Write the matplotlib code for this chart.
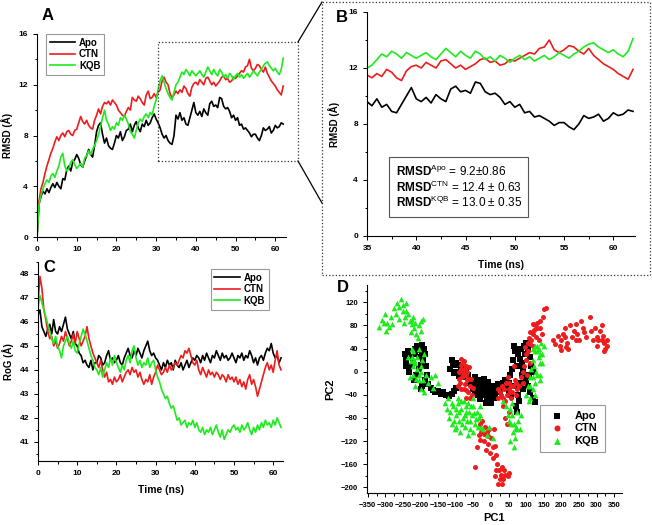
import numpy as np
import matplotlib
matplotlib.use('Agg')
from matplotlib import pyplot as plt
from matplotlib.lines import Line2D
from matplotlib.patches import Rectangle
from matplotlib.ticker import MultipleLocator

plt.rcParams['font.family'] = ['Liberation Sans', 'DejaVu Sans']
plt.rcParams['mathtext.fontset'] = 'custom'
plt.rcParams['mathtext.rm'] = 'Liberation Sans'
plt.rcParams['mathtext.bf'] = 'Liberation Sans:bold'

# time axis, 0.5 ns steps
time_ns = np.arange(0, 62.01, 0.5)

# RMSD (A) - panel A and B
rmsd_apo = [0.0, 2.6, 3.2, 3.6, 3.4, 3.8, 3.5, 3.9, 4.2, 3.9,
            4.3, 4.0, 3.8, 4.6, 4.5, 5.3, 5.6, 5.2, 5.9, 6.1,
            6.5, 6.2, 5.7, 5.5, 6.0, 6.4, 6.9, 6.5, 6.3, 7.2,
            8.3, 8.8, 9.0, 8.1, 7.4, 7.8, 7.2, 7.0, 6.9, 7.4,
            8.0, 7.8, 8.3, 7.6, 7.9, 8.4, 8.5, 8.9, 8.3, 8.8,
            9.1, 8.6, 8.3, 8.9, 8.7, 9.2, 8.8, 9.0, 9.4, 9.7,
            9.3, 9.0, 8.6, 8.1, 7.8, 8.0, 7.6, 7.4, 7.3, 8.0,
            9.6, 9.3, 9.8, 9.2, 9.4, 8.9, 8.8, 9.4, 10.0, 10.6,
            9.8, 9.6, 9.9, 9.5, 10.1, 9.8, 9.6, 10.5, 10.7, 10.3,
            10.4, 10.2, 11.0, 10.9, 10.3, 10.1, 10.2, 9.9, 9.4, 9.6,
            9.2, 9.4, 8.8, 8.9, 8.5, 8.6, 8.4, 8.2, 7.9, 8.1,
            8.1, 7.8, 7.6, 8.0, 8.6, 8.4, 8.5, 8.7, 8.2, 8.4,
            8.8, 8.6, 8.7, 9.0, 8.9]
rmsd_ctn = [0.0, 2.8, 3.8, 4.3, 5.0, 5.6, 6.1, 6.6, 7.0, 7.5,
            7.9, 7.6, 8.0, 8.2, 7.9, 8.3, 8.4, 8.1, 8.0, 8.4,
            8.5, 9.0, 9.5, 9.1, 8.9, 9.2, 8.8, 8.6, 8.5, 9.2,
            9.6, 10.1, 9.7, 10.3, 10.6, 10.5, 10.7, 10.4, 10.8, 10.6,
            10.4, 10.0, 9.8, 9.6, 9.5, 9.9, 10.2, 10.0, 11.0, 10.8,
            10.7, 11.1, 10.9, 10.6, 10.4, 11.2, 11.5, 10.9, 11.0, 11.3,
            11.0, 11.4, 11.6, 12.3, 12.6, 12.2, 12.0, 11.3, 11.0, 11.2,
            11.5, 11.3, 11.6, 11.4, 11.9, 11.7, 11.3, 11.1, 11.8, 12.1,
            12.2, 12.0, 12.4, 12.2, 12.0, 12.5, 12.6, 12.3, 12.0, 12.2,
            11.9, 12.1, 12.3, 12.6, 12.7, 12.4, 12.5, 12.2, 12.3, 12.6,
            12.5, 12.7, 12.9, 13.1, 13.0, 13.4, 13.5, 14.0, 13.3, 13.1,
            13.3, 13.6, 13.5, 13.2, 13.0, 13.4, 12.9, 12.6, 12.3, 12.1,
            11.9, 11.6, 11.4, 11.2, 11.9]
rmsd_kqb = [0.0, 2.5, 3.3, 3.8, 4.2, 4.5, 4.3, 4.8, 5.0, 4.7,
            5.2, 5.6, 6.3, 6.6, 5.6, 5.2, 5.4, 5.9, 6.1, 5.7,
            5.4, 5.6, 5.8, 5.5, 6.2, 6.4, 6.8, 6.5, 6.9, 7.2,
            7.6, 8.1, 8.7, 9.4, 10.0, 9.2, 8.9, 8.4, 8.7, 8.5,
            9.0, 8.8, 9.4, 9.2, 9.6, 9.3, 8.9, 8.3, 8.1, 7.8,
            8.4, 9.0, 9.3, 9.1, 9.5, 9.7, 9.4, 9.8, 9.6, 10.3,
            10.8, 11.6, 12.3, 12.7, 12.2, 11.7, 11.3, 11.0, 10.8, 11.4,
            12.0, 12.2, 12.6, 13.0, 12.8, 13.2, 13.0, 12.7, 13.1, 12.9,
            12.7, 12.9, 13.1, 12.8, 12.6, 13.0, 13.4, 13.1, 12.8, 13.2,
            12.9, 12.7, 13.2, 13.0, 12.6, 12.8, 12.5, 12.9, 12.7, 12.4,
            12.7, 12.9, 12.6, 12.8, 12.5, 12.7, 12.9, 12.6, 12.8, 13.1,
            12.9, 12.7, 13.0, 13.2, 13.5, 13.7, 13.8, 13.5, 13.3, 13.1,
            13.3, 13.0, 12.8, 13.2, 14.1]

# radius of gyration (A) - panel C
rog_apo = [46.3, 46.5, 45.8, 45.6, 45.4, 45.7, 45.9, 45.5, 46.1, 45.6,
           45.5, 45.8, 45.6, 45.9, 46.2, 45.7, 45.5, 45.3, 45.6, 45.1,
           45.0, 44.7, 44.6, 44.3, 44.4, 44.2, 44.1, 44.4, 44.0, 44.3,
           44.3, 44.6, 44.5, 44.2, 44.3, 44.6, 44.8, 44.4, 44.5, 44.3,
           44.4, 44.6, 44.3, 44.2, 44.5, 44.7, 44.9, 44.6, 44.5, 44.8,
           44.6, 44.9, 44.7, 44.5, 44.8, 45.0, 45.2, 44.8, 44.6, 44.7,
           44.5, 44.4, 44.2, 44.0, 44.3, 44.1, 44.4, 44.2, 44.3, 44.0,
           44.4, 44.2, 44.1, 44.3, 44.0, 44.2, 44.4, 44.1, 44.3, 44.5,
           44.4, 44.6, 44.5, 44.3, 44.6, 44.4, 44.7, 44.5, 44.3, 44.6,
           44.5, 44.8, 44.6, 44.4, 44.7, 44.5, 44.6, 44.4, 44.5, 44.7,
           44.5, 44.3, 44.6, 44.5, 44.7, 44.4, 44.6, 44.5, 44.8, 44.6,
           44.3, 44.5, 44.2, 44.5, 44.6, 44.4, 44.7, 44.9, 44.8, 45.1,
           44.7, 44.5, 44.6, 44.3, 44.5]
rog_ctn = [46.8, 47.9, 47.4, 46.5, 46.1, 45.6, 45.3, 45.4, 45.0, 45.2,
           44.9, 45.1, 45.4, 45.2, 45.6, 45.3, 45.0, 45.2, 45.5, 45.1,
           45.6, 45.3, 45.0, 45.2, 45.4, 45.8, 45.3, 45.0, 44.7, 44.5,
           44.3, 44.1, 44.4, 44.0, 43.7, 43.9, 43.5, 43.6, 43.4, 43.7,
           43.5, 43.6, 43.8, 43.5, 43.7, 43.9, 44.0, 43.8, 44.1, 43.9,
           44.0, 43.7, 43.9, 43.6, 43.4, 43.6, 43.5, 43.8, 43.4, 43.7,
           43.9, 44.2, 44.0, 43.8, 43.9, 44.1, 43.9, 44.2, 44.0, 44.1,
           44.3, 44.2, 44.4, 44.6, 44.5, 44.8, 44.7, 44.9, 44.6, 44.3,
           44.2, 44.4, 44.0, 43.8, 44.1, 43.9, 43.7, 44.0, 43.8, 43.9,
           43.7, 43.9, 43.8, 43.6, 43.8, 43.7, 43.5, 43.8, 43.6, 43.7,
           43.5, 43.7, 43.4, 43.6, 43.3, 43.5, 43.2, 43.6, 43.8, 43.4,
           43.6, 43.3, 42.9, 43.2, 43.5, 43.8, 44.1, 44.3, 44.0, 44.2,
           43.9, 44.4, 44.8, 44.2, 44.0]
rog_kqb = [46.6, 47.1, 46.8, 46.5, 46.2, 45.9, 45.6, 45.3, 45.1, 45.4,
           45.0, 44.8, 44.5, 45.0, 45.2, 45.4, 45.1, 44.9, 45.2, 44.8,
           44.7, 45.1, 45.4, 45.7, 45.5, 45.2, 44.9, 44.6, 44.4, 44.1,
           44.0, 43.8, 44.1, 43.7, 44.0, 44.3, 44.1, 44.5, 44.2, 44.6,
           44.3, 44.1, 43.9, 44.2, 44.0, 44.4, 44.6, 44.3, 44.8, 45.0,
           44.5, 44.2, 44.4, 44.1, 44.3, 44.2, 44.5, 44.1, 44.3, 44.4,
           44.0, 43.7, 43.5, 43.2, 43.0, 42.8, 42.9, 42.6, 42.4, 42.5,
           42.2, 41.9, 42.0, 41.7, 41.8, 41.9, 41.6, 41.8, 41.7, 41.9,
           41.6, 41.8, 41.5, 41.4, 41.6, 41.3, 41.5, 41.4, 41.6, 41.3,
           41.5, 41.7, 41.4, 41.2, 41.5, 41.1, 41.3, 41.5, 41.4, 41.6,
           41.7, 41.5, 41.6, 41.4, 41.7, 41.5, 41.6, 41.8, 41.5, 41.3,
           41.6, 41.4, 41.7, 41.5, 41.8, 41.6, 41.9, 41.7, 41.8, 41.6,
           41.9, 41.7, 42.0, 41.8, 41.6]

# PCA projections - panel D
pc_apo = [(-245, 30), (-240, 20), (-235, 35), (-228, 25), (-222, 15), (-215, 30), (-208, 38),
          (-200, 42), (-195, 47), (-190, 40), (-188, 30), (-192, 20), (-198, 12), (-205, 5),
          (-212, -5), (-218, -15), (-225, 10), (-232, 0), (-185, 10), (-182, -5), (-188, -15),
          (-195, -25), (-178, -22), (-170, -28), (-200, -30),
          (-165, -32), (-158, -35), (-150, -33), (-142, -38), (-135, -36), (-128, -40),
          (-120, -42), (-112, -38), (-105, -33), (-98, -28),
          (-115, 5), (-108, 12), (-100, 15), (-104, -2), (-95, 0), (-90, -8), (-85, 5),
          (-60, -20), (-55, -15), (-48, -22), (-42, -18), (-35, -25), (-30, -15), (-25, -30),
          (-20, -22), (-15, -35), (-10, -28), (-5, -40), (0, -32), (5, -25), (10, -38),
          (15, -30), (20, -22), (25, -35), (-12, -45), (-2, -50), (8, -45), (-28, -40),
          (-20, -12), (-8, -18), (30, -28), (35, -20), (40, -15), (45, -25),
          (55, -5), (60, 5), (62, 20), (68, 35), (72, 40), (78, 30), (82, 22), (88, 15),
          (92, 5), (98, 30), (105, 40), (110, 25), (95, -5), (100, -15), (105, -25), (90, -30),
          (85, -20), (112, -35), (118, -45), (125, -52), (78, -40), (70, -60), (75, -70),
          (80, -50), (115, 10), (120, 0),
          (-50, -30), (-45, -35), (-40, -28), (-38, -40), (-32, -32), (-25, -20), (-18, -28),
          (-12, -25), (-8, -35), (-3, -28), (2, -40), (6, -32), (12, -28), (-22, -38),
          (-30, -48), (-15, -55), (0, -55), (-45, -10), (-65, -5), (-70, 5), (-75, -10),
          (-110, 20), (-100, 0), (-95, 12), (50, -35), (52, -20), (65, -25), (58, -40),
          (85, 40), (95, 45), (100, 50), (75, 10), (88, -5), (108, -5), (65, 45),
          (-210, 45), (-203, 25), (-195, 35), (-215, 40), (-240, 10)]
pc_ctn = [(175, 55), (182, 48), (190, 62), (195, 45), (200, 55), (205, 65), (210, 75), (215, 50),
          (220, 40), (225, 80), (230, 60), (235, 70), (240, 82), (245, 65), (250, 55), (255, 88),
          (260, 75), (270, 60), (280, 95), (285, 70), (290, 55), (295, 75), (300, 60), (305, 55),
          (310, 70), (315, 80), (318, 62), (322, 50), (325, 40), (320, 35), (330, 45), (328, 55),
          (212, 42), (198, 38), (265, 68),
          (150, 108), (155, 110), (148, 95), (140, 88), (132, 75), (125, 80), (120, 65), (115, 55),
          (110, 48), (105, 35), (100, 20), (95, 10), (90, 0), (85, -10), (128, 60), (118, 82),
          (108, 58), (98, 42), (135, 55), (145, 65), (112, 15), (102, -5),
          (-85, 22), (-80, 15), (-75, 5), (-70, -5), (-82, -10), (-88, -20), (-95, -25), (-78, -30),
          (-65, -35), (-72, -45), (-60, -25), (-55, -40), (-68, -15), (-90, 0), (-62, 8), (25, -35),
          (30, -25), (38, -30), (45, -40), (50, -20), (55, -35), (62, -25), (68, -15), (75, -30),
          (40, -50), (35, -60), (58, -45), (20, -45), (48, -10), (65, 10),
          (-25, -85), (-18, -95), (-12, -105), (-5, -100), (0, -115), (-8, -125), (-20, -120),
          (-32, -118), (-40, -130), (-45, -165), (-15, -135), (-2, -140), (5, -150), (10, -128),
          (15, -145), (18, -160), (22, -170), (28, -178), (35, -185), (20, -195), (40, -178),
          (48, -180), (52, -175), (12, -180), (30, -165), (8, -100), (-28, -105), (45, -90),
          (50, -70), (40, -80),
          (-85, 5), (-80, -5), (-76, 18), (-72, 10), (-68, 0), (-66, -12), (-74, -22), (-84, -30),
          (-92, -12), (-58, -12), (-52, -28), (-60, -45), (-70, -32), (-78, 0), (-86, 12),
          (20, -30), (28, -40), (35, -45), (42, -20), (50, -30), (58, -25), (60, -35), (70, -40),
          (72, -20), (80, -25), (90, -20), (100, 30), (105, 50), (112, 68), (118, 45), (122, 72),
          (130, 85), (140, 75), (-30, -90), (-35, -110), (-20, -108), (-8, -112), (5, -130),
          (25, -185), (38, -170), (30, -195), (15, -170), (210, 60), (240, 55), (300, 45),
          (315, 55)]
pc_kqb = [(-318, 78), (-310, 90), (-302, 100), (-295, 85), (-298, 70), (-290, 78), (-285, 95),
          (-275, 110), (-268, 118), (-260, 112), (-255, 125), (-250, 105), (-245, 95), (-262, 92),
          (-240, 118), (-235, 100), (-230, 88), (-225, 82), (-218, 75), (-212, 65), (-205, 80),
          (-198, 88), (-192, 92), (-200, 70), (-220, 95), (-208, 58), (-228, 68), (-270, 100),
          (-280, 82), (-247, 84),
          (-235, 25), (-228, 18), (-220, 35), (-215, 15), (-210, 5), (-222, -5), (-230, -10),
          (-205, -15), (-198, 0), (-195, 20), (-190, 30), (-185, -5), (-215, -25), (-200, -30),
          (-210, 25), (-225, 40), (-180, -20), (-170, -10), (-165, -28), (-150, -20), (-160, -5),
          (-205, 40), (-190, -35), (-220, 10),
          (-130, -55), (-122, -45), (-115, -70), (-108, -60), (-100, -75), (-95, -55), (-90, -85),
          (-85, -65), (-80, -80), (-75, -95), (-70, -70), (-65, -55), (-60, -85), (-55, -75),
          (-50, -60), (-45, -90), (-40, -70), (-35, -80), (-28, -95), (-22, -100), (-110, -90),
          (-100, -95), (-88, -105), (-118, -80), (-60, -100), (-52, -45), (-30, -60), (-78, -50),
          (-12, -110), (5, -115), (-5, -95),
          (35, -50), (42, -60), (48, -75), (55, -65), (58, -90), (62, -105), (68, -115), (72, -95),
          (78, -85), (82, -100), (65, -130), (55, -120), (75, -70), (60, -55), (85, -75),
          (100, -40), (105, -25), (110, -10), (115, 5), (120, 20), (125, 35), (130, 45), (135, 40),
          (140, 30), (145, 15), (128, 0), (118, -30), (108, -50), (122, 10), (135, 25), (142, 50),
          (150, 45), (112, -45), (138, -5), (126, -20),
          (-125, -65), (-112, -55), (-105, -85), (-98, -65), (-92, -70), (-82, -90), (-75, -75),
          (-70, -60), (-68, -85), (-62, -70), (-58, -60), (-48, -72), (-42, -82), (-38, -95),
          (-85, -50), (-95, -45), (-102, -100), (-65, -110), (-50, -105), (-30, -75),
          (125, 45), (132, 35), (138, 15), (118, -10), (112, -25), (125, -40), (130, -5),
          (145, 30), (120, 40), (140, -15), (-218, 20), (-212, -12), (-200, 10), (-225, 25),
          (-192, -15), (-205, -5), (50, -85), (65, -90), (70, -100), (60, -75), (-250, 115),
          (-240, 105), (-225, 90), (-305, 85), (-215, 85)]

names = ['Apo', 'CTN', 'KQB']
colors = ['black', '#ee1c1c', '#1eea1e']

W, H = 652, 525
fig = plt.figure(figsize=(W / 100, H / 100), dpi=100)


def px_axes(l, t, r, b):
    return fig.add_axes([l / W, 1 - b / H, (r - l) / W, (b - t) / H])


def style(ax, fs=6):
    for s in ['top', 'right']:
        ax.spines[s].set_visible(False)
    for s in ['left', 'bottom']:
        ax.spines[s].set_linewidth(0.8)
    ax.tick_params(which='both', direction='out', labelsize=fs, width=0.7)
    ax.tick_params(which='major', length=3)
    ax.tick_params(which='minor', length=1.8)
    for lab in ax.get_xticklabels() + ax.get_yticklabels():
        lab.set_fontweight('bold')


def legend(ax, **kw):
    lg = ax.legend(frameon=True, fancybox=False, prop={'weight': 'bold', 'size': 7},
                   borderaxespad=0, handlelength=2.6, handletextpad=0.4,
                   labelspacing=0.15, borderpad=0.4, **kw)
    lg.get_frame().set_edgecolor('gray')
    lg.get_frame().set_linewidth(0.8)
    return lg


# ---- A ----
axA = px_axes(37, 34, 286, 237)
for y, n, c in zip([rmsd_apo, rmsd_ctn, rmsd_kqb], names, colors):
    axA.plot(time_ns, y, color=c, lw=1.2, label=n)
axA.set_xlim(0, 62.7)
axA.set_ylim(0, 16)
axA.xaxis.set_major_locator(MultipleLocator(10))
axA.xaxis.set_minor_locator(MultipleLocator(5))
axA.yaxis.set_major_locator(MultipleLocator(4))
axA.yaxis.set_minor_locator(MultipleLocator(2))
axA.set_ylabel('RMSD (Å)', fontsize=7, fontweight='bold', labelpad=4)
style(axA)
legend(axA, loc='upper left', bbox_to_anchor=(0.036, 1.0))

# ---- B ----
axB = px_axes(367, 12, 635, 236)
for y, n, c in zip([rmsd_apo, rmsd_ctn, rmsd_kqb], names, colors):
    m = time_ns >= 35
    axB.plot(time_ns[m], np.array(y)[m], color=c, lw=1.2)
axB.set_xlim(35, 62.2)
axB.set_ylim(0, 16)
axB.xaxis.set_major_locator(MultipleLocator(5))
axB.xaxis.set_minor_locator(MultipleLocator(2.5))
axB.yaxis.set_major_locator(MultipleLocator(4))
axB.yaxis.set_minor_locator(MultipleLocator(2))
axB.set_ylabel('RMSD (Å)', fontsize=7, fontweight='bold', labelpad=6)
axB.set_xlabel('Time (ns)', fontsize=7.5, fontweight='bold', labelpad=6)
style(axB)
txt = ('$\\mathbf{RMSD}^{\\mathrm{Apo}}$ = 9.2±0.86\n'
       '$\\mathbf{RMSD}^{\\mathrm{CTN}}$ = 12.4 ± 0.63\n'
       '$\\mathbf{RMSD}^{\\mathrm{KQB}}$ = 13.0 ± 0.35')
axB.text(37.9, 3.5, txt, fontsize=8.5, va='center', ha='left', linespacing=1.05,
         bbox=dict(boxstyle='square,pad=0.55', fc='white', ec='#555555', lw=0.8))

# ---- C ----
axC = px_axes(38, 262, 283, 461)
for y, n, c in zip([rog_apo, rog_ctn, rog_kqb], names, colors):
    axC.plot(time_ns, y, color=c, lw=1.2, label=n)
axC.set_xlim(0, 62.5)
axC.set_ylim(40.2, 48.5)
axC.xaxis.set_major_locator(MultipleLocator(10))
axC.xaxis.set_minor_locator(MultipleLocator(5))
axC.yaxis.set_major_locator(MultipleLocator(1))
axC.yaxis.set_minor_locator(MultipleLocator(0.5))
axC.set_ylabel('RoG (Å)', fontsize=7, fontweight='bold', labelpad=4)
axC.set_xlabel('Time (ns)', fontsize=7.5, fontweight='bold', labelpad=6)
style(axC)
legend(axC, loc='upper right', bbox_to_anchor=(0.943, 0.965))

# ---- D ----
axD = px_axes(367, 285, 622, 493)
markers = ['s', 'o', '^']
for pts, n, c, mk in zip([pc_apo, pc_ctn, pc_kqb], names, colors, markers):
    xy = np.array(pts)
    axD.scatter(xy[:, 0], xy[:, 1], s=17 if mk == '^' else 13, marker=mk, color=c,
                linewidths=0, label=n)
axD.set_xlim(-352, 372)
axD.set_ylim(-210, 150)
axD.set_xticks(np.arange(-350, 351, 50))
axD.set_yticks(np.arange(-200, 121, 40))
axD.xaxis.set_minor_locator(MultipleLocator(25))
axD.yaxis.set_minor_locator(MultipleLocator(20))
axD.set_xlabel('PC1', fontsize=8, fontweight='bold', labelpad=3)
axD.set_ylabel('PC2', fontsize=8, fontweight='bold', labelpad=4)
style(axD, fs=5.5)
lgD = axD.legend(frameon=True, fancybox=False, prop={'weight': 'bold', 'size': 8},
                 loc='upper right', bbox_to_anchor=(0.933, 0.423), borderaxespad=0,
                 markerscale=1.2, handletextpad=0.6, labelspacing=0.25, borderpad=0.5)
lgD.get_frame().set_edgecolor('gray')
lgD.get_frame().set_linewidth(0.8)

# panel letters
for lbl, (x, y) in zip('ABCD', [(48, 15), (342, 18), (49, 268), (343, 288)]):
    fig.text(x / W, 1 - y / H, lbl, fontsize=12, fontweight='bold', ha='center', va='center')


# zoom box and connecting lines (figure pixel coords)
def fx(x):
    return x / W


def fy(y):
    return 1 - y / H


fig.add_artist(Rectangle((fx(158), fy(161)), (298 - 158) / W, (161 - 42) / H,
                         transform=fig.transFigure, fill=False, ec='#333333', lw=0.9, ls=':'))
fig.add_artist(Rectangle((fx(322), fy(275)), (650 - 322) / W, (275 - 2) / H,
                         transform=fig.transFigure, fill=False, ec='#333333', lw=0.9, ls=':'))
fig.add_artist(Line2D([fx(298), fx(322)], [fy(42), fy(2)], transform=fig.transFigure,
                      color='black', lw=0.9))
fig.add_artist(Line2D([fx(298), fx(322)], [fy(161), fy(203)], transform=fig.transFigure,
                      color='black', lw=0.9))

fig.savefig('out.png', dpi=100)
